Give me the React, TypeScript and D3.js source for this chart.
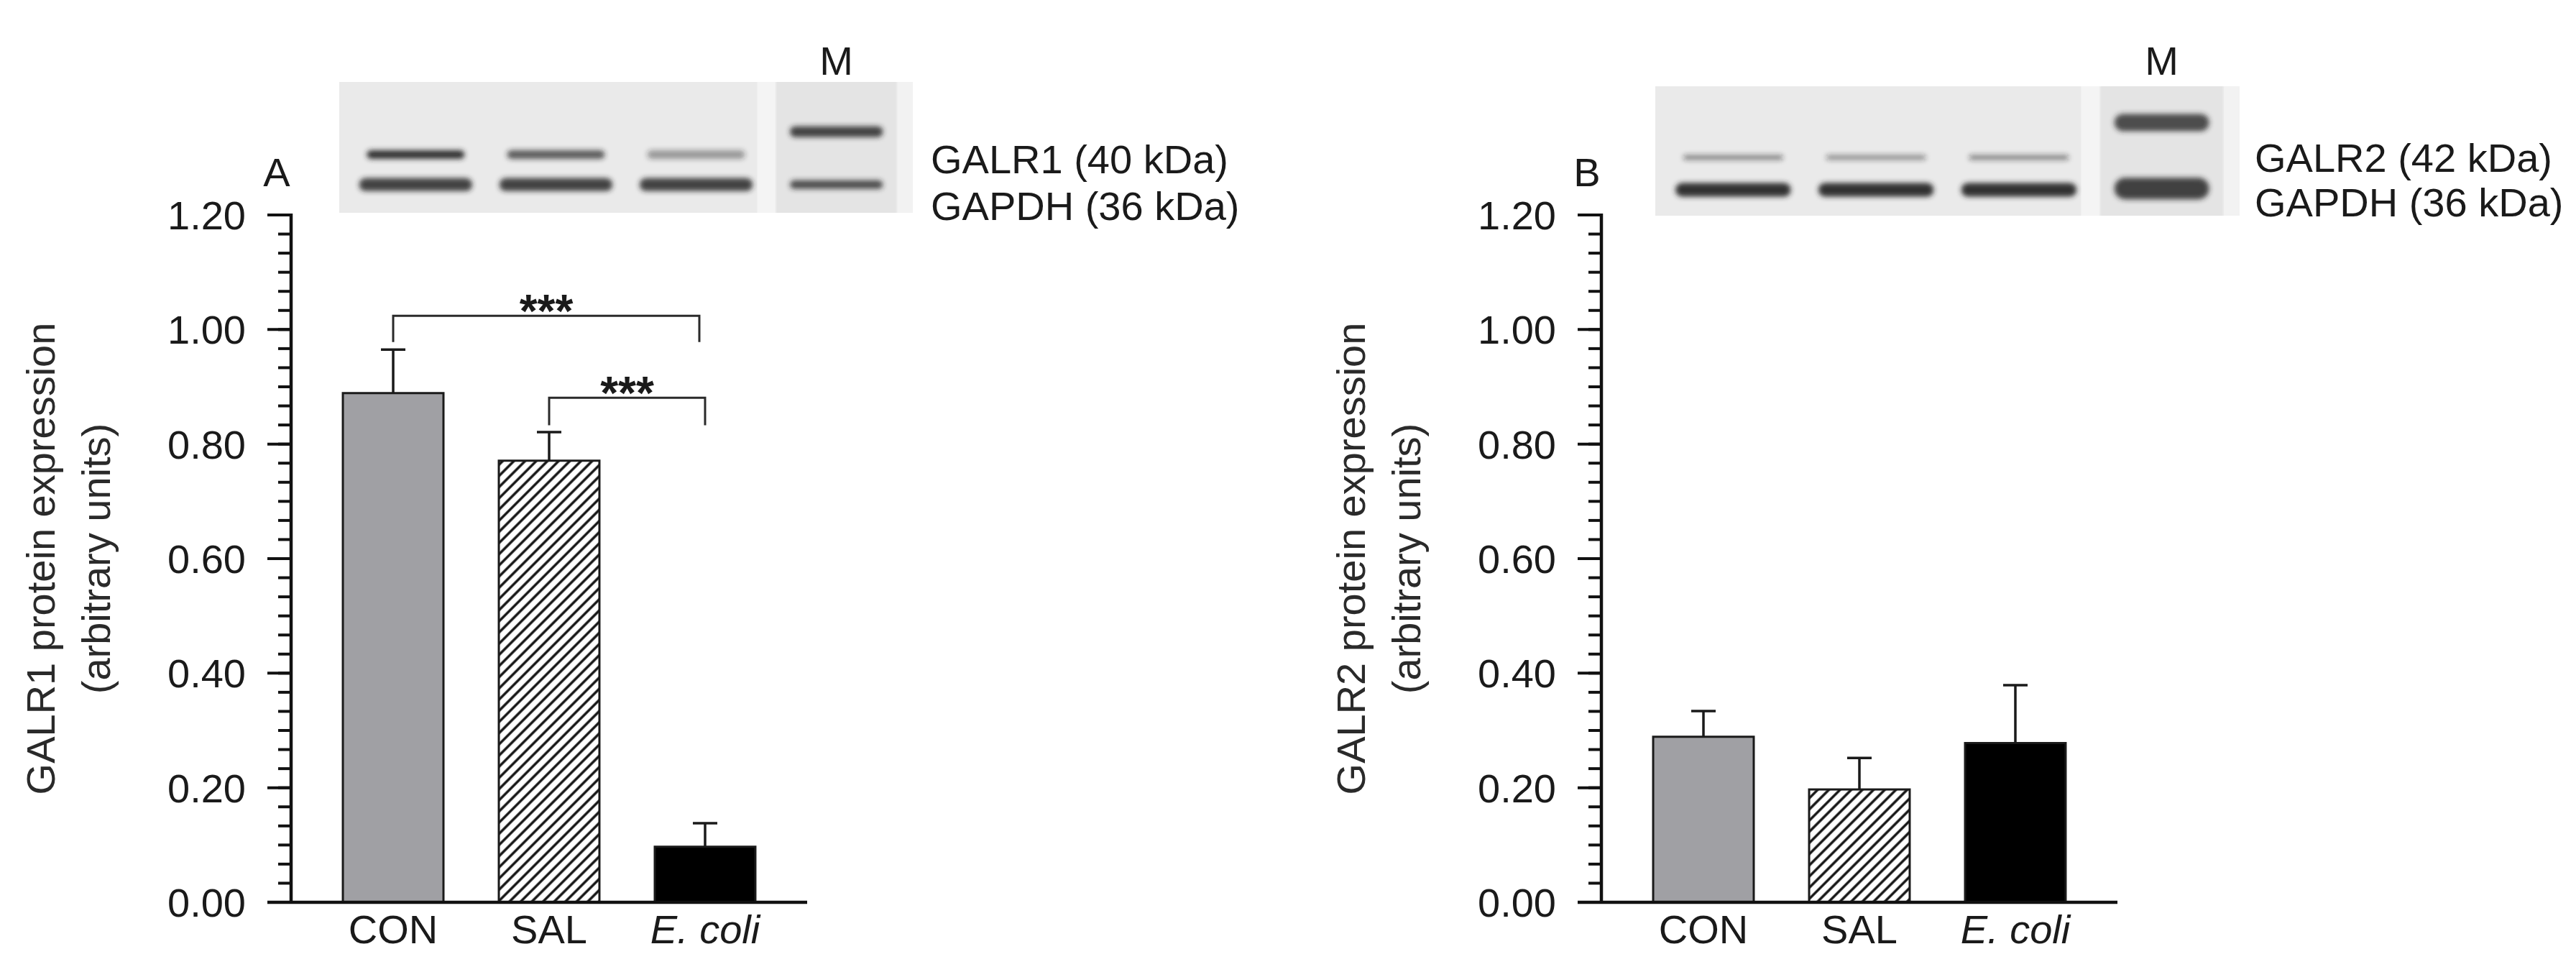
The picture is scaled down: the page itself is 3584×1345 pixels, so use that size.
import React from 'react';
import * as d3 from 'd3';

const W = 3584;
const H = 1345;
const FONT = '"Liberation Sans", Arial, Helvetica, sans-serif';
const TEXT = '#1a1a1a';

// ---- data ----
const categories = ['CON', 'SAL', 'E. coli'];
const galr1Mean = [0.889, 0.771, 0.097];
const galr1Sem = [0.076, 0.05, 0.041];
const galr2Mean = [0.289, 0.197, 0.278];
const galr2Sem = [0.045, 0.055, 0.101];
const yTickValues = [0, 0.2, 0.4, 0.6, 0.8, 1.0, 1.2];
const galr1Sig = [
  { from: 'CON', to: 'E. coli', level: 1.024, drop: 0.046, label: '***' },
  { from: 'SAL', to: 'E. coli', level: 0.881, drop: 0.048, label: '***' },
];
const galr2Sig: { from: string; to: string; level: number; drop: number; label: string }[] = [];

// blot band intensities (lanes: CON, SAL, E. coli, M)
const blotLanes = ['CON', 'SAL', 'E. coli', 'M'];
const blotAReceptor = [0.95, 0.72, 0.42];
const blotAGapdh = [0.85, 0.85, 0.85];
const blotAMarker = [0.85, 0.8];
const blotBReceptor = [0.5, 0.45, 0.5];
const blotBGapdh = [0.95, 0.95, 0.95];
const blotBMarker = [0.8, 0.85];

type BlotProps = {
  x0: number; y0: number; w: number; h: number;
  receptor: number[]; gapdh: number[]; marker: number[];
  recY: number; gapY: number; mUpY: number; mLowY: number;
  recH: number; gapH: number; mUpH: number; mLowH: number;
  id: string;
};

function Blot(p: BlotProps) {
  const lane = d3.scaleBand<string>().domain(blotLanes).range([p.x0, p.x0 + p.w]).paddingInner(0.15).paddingOuter(0.12);
  const bw = lane.bandwidth();
  const mX = lane('M')!;
  const band = (cx: number, cy: number, wd: number, ht: number, op: number, key: string) => (
    <rect key={key} x={cx - wd / 2} y={cy - ht / 2} width={wd} height={ht} rx={ht / 2} fill="#262626" opacity={op} />
  );
  return (
    <g>
      <defs>
        <filter id={`blur-${p.id}`} x="-20%" y="-50%" width="140%" height="200%">
          <feGaussianBlur stdDeviation="3.5" />
        </filter>
      </defs>
      <rect x={p.x0} y={p.y0} width={p.w} height={p.h} fill="#eaeaea" />
      <rect x={lane('E. coli')! + bw + 2} y={p.y0} width={mX - lane('E. coli')! - bw - 4} height={p.h} fill="#f4f4f4" />
      <rect x={mX + bw + 2} y={p.y0} width={p.x0 + p.w - mX - bw - 2} height={p.h} fill="#f2f2f2" />
      <rect x={mX} y={p.y0} width={bw} height={p.h} fill="#e4e4e4" />
      <g filter={`url(#blur-${p.id})`}>
        {categories.map((c, i) => band(lane(c)! + bw / 2, p.y0 + p.recY * p.h, bw * 0.82, p.recH, p.receptor[i], 'r' + i))}
        {categories.map((c, i) => band(lane(c)! + bw / 2, p.y0 + p.gapY * p.h, bw * 0.95, p.gapH, p.gapdh[i], 'g' + i))}
        {band(mX + bw / 2, p.y0 + p.mUpY * p.h, bw * 0.78, p.mUpH, p.marker[0], 'm0')}
        {band(mX + bw / 2, p.y0 + p.mLowY * p.h, bw * 0.78, p.mLowH, p.marker[1], 'm1')}
      </g>
      <text x={mX + bw / 2} y={104} textAnchor="middle" fontSize={56} fontFamily={FONT} fill={TEXT}>M</text>
    </g>
  );
}

type PanelProps = {
  ox: number; letter: string; yTitle: string;
  means: number[]; sems: number[];
  sig: { from: string; to: string; level: number; drop: number; label: string }[];
  id: string;
};

function Panel({ ox, letter, yTitle, means, sems, sig, id }: PanelProps) {
  const axisX = 405 + ox;
  const y = d3.scaleLinear().domain([0, 1.2]).range([1255, 299]);
  const x = d3.scaleBand<string>().domain(categories).range([axisX, axisX + 718]).paddingInner(0.355).paddingOuter(0.332);
  const bw = x.bandwidth();
  const minorTicks = d3.range(0, 37).map((i) => (i * 1.2) / 36);
  const fills = ['#a0a0a4', `url(#hatch-${id})`, '#000000'];
  const cx = (c: string) => x(c)! + bw / 2;
  const titleMidY = (y(0) + y(1.2)) / 2;
  return (
    <g fontFamily={FONT}>
      <defs>
        <pattern id={`hatch-${id}`} patternUnits="userSpaceOnUse" width={11} height={11} patternTransform="rotate(45)">
          <rect width={11} height={11} fill="#ffffff" />
          <line x1={2} y1={0} x2={2} y2={11} stroke="#111" strokeWidth={3.4} />
        </pattern>
      </defs>
      {/* y title */}
      <text transform={`translate(${axisX - 349 + 20},${titleMidY}) rotate(-90)`} textAnchor="middle" fontSize={56} fill="#2a2a2a">{yTitle}</text>
      <text transform={`translate(${axisX - 272 + 20},${titleMidY}) rotate(-90)`} textAnchor="middle" fontSize={56} fill="#2a2a2a">(arbitrary units)</text>
      {/* panel letter */}
      <text x={axisX - 20} y={259} textAnchor="middle" fontSize={56} fill={TEXT}>{letter}</text>
      {/* bars */}
      {categories.map((c, i) => (
        <rect key={c} x={x(c)!} y={y(means[i])} width={bw} height={y(0) - y(means[i])} fill={fills[i]} stroke="#1a1a1a" strokeWidth={3} />
      ))}
      {/* error bars */}
      {categories.map((c, i) => (
        <g key={'e' + c} stroke="#1a1a1a" strokeWidth={3.5}>
          <line x1={cx(c)} x2={cx(c)} y1={y(means[i])} y2={y(means[i] + sems[i])} />
          <line x1={cx(c) - 17} x2={cx(c) + 17} y1={y(means[i] + sems[i])} y2={y(means[i] + sems[i])} />
        </g>
      ))}
      {/* y axis */}
      <line x1={axisX} x2={axisX} y1={y(1.2) - 2} y2={y(0)} stroke="#111" strokeWidth={4.5} />
      {minorTicks.map((t, i) => (
        <line key={'m' + i} x1={axisX - 18} x2={axisX} y1={y(t)} y2={y(t)} stroke="#111" strokeWidth={4} />
      ))}
      {yTickValues.map((t) => (
        <g key={'t' + t}>
          <line x1={axisX - 33} x2={axisX} y1={y(t)} y2={y(t)} stroke="#111" strokeWidth={4} />
          <text x={axisX - 63} y={y(t) + 20} textAnchor="end" fontSize={56} fill={TEXT}>{t.toFixed(2)}</text>
        </g>
      ))}
      {/* x axis */}
      <line x1={axisX - 33} x2={axisX + 718} y1={y(0)} y2={y(0)} stroke="#111" strokeWidth={4.5} />
      {categories.map((c) => (
        <text key={'l' + c} x={cx(c)} y={1312} textAnchor="middle" fontSize={56} fill={TEXT} fontStyle={c === 'E. coli' ? 'italic' : 'normal'}>{c}</text>
      ))}
      {/* significance brackets */}
      {sig.map((s, i) => {
        const x1 = cx(s.from);
        const x2 = cx(s.to) - (i === 0 ? 8 : 0);
        const yl = y(s.level);
        const yd = y(s.level - s.drop);
        return (
          <g key={'s' + i}>
            <path d={`M${x1},${yd} V${yl} H${x2} V${yd}`} fill="none" stroke="#2a2a2a" strokeWidth={3} />
            <text x={(x1 + x2) / 2} y={yl + 16} textAnchor="middle" fontSize={64} fontWeight="bold" fill={TEXT}>{s.label}</text>
          </g>
        );
      })}
    </g>
  );
}

export default function App() {
  return (
    <svg width={W} height={H} viewBox={`0 0 ${W} ${H}`} style={{ position: 'absolute', left: 0, top: 0, background: '#fff' }}>
      <rect width={W} height={H} fill="#ffffff" />
      <Blot id="a" x0={472} y0={114} w={798} h={182} receptor={blotAReceptor} gapdh={blotAGapdh} marker={blotAMarker}
        recY={0.555} gapY={0.785} mUpY={0.38} mLowY={0.785} recH={12} gapH={18} mUpH={15} mLowH={12} />
      <text x={1295} y={241} fontSize={56} fontFamily={FONT} fill={TEXT}>GALR1 (40 kDa)</text>
      <text x={1295} y={306} fontSize={56} fontFamily={FONT} fill={TEXT}>GAPDH (36 kDa)</text>
      <Panel id="a" ox={0} letter="A" yTitle="GALR1 protein expression" means={galr1Mean} sems={galr1Sem} sig={galr1Sig} />

      <Blot id="b" x0={2303} y0={120} w={813} h={180} receptor={blotBReceptor} gapdh={blotBGapdh} marker={blotBMarker}
        recY={0.55} gapY={0.8} mUpY={0.28} mLowY={0.79} recH={7} gapH={19} mUpH={24} mLowH={30} />
      <text x={3137} y={239} fontSize={56} fontFamily={FONT} fill={TEXT}>GALR2 (42 kDa)</text>
      <text x={3137} y={301} fontSize={56} fontFamily={FONT} fill={TEXT}>GAPDH (36 kDa)</text>
      <Panel id="b" ox={1823} letter="B" yTitle="GALR2 protein expression" means={galr2Mean} sems={galr2Sem} sig={galr2Sig} />
    </svg>
  );
}
